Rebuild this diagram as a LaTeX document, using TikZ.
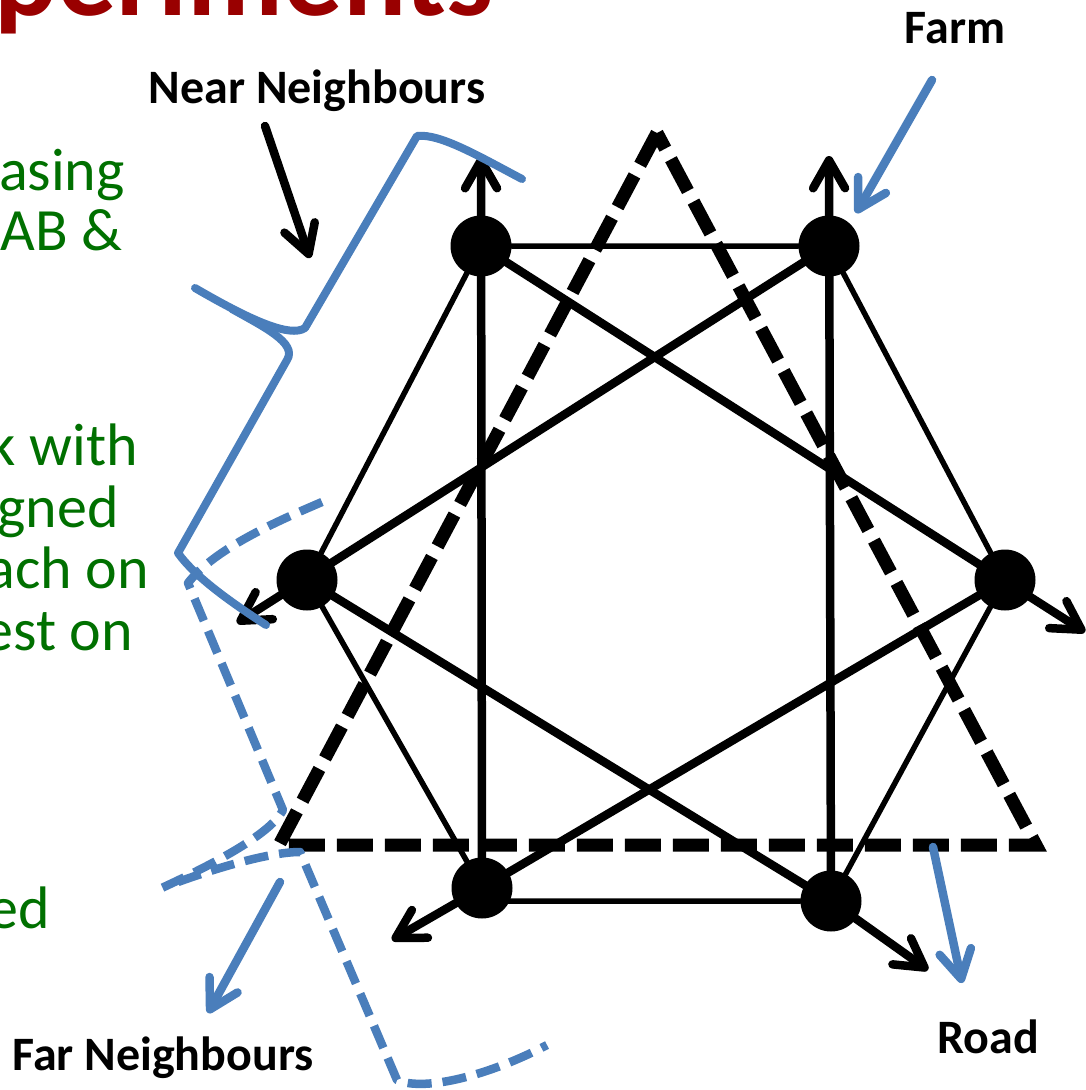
\documentclass[tikz,border=0pt]{standalone}
\usepackage{fontspec}
\setmainfont{Carlito}
\usetikzlibrary{arrows.meta}
\definecolor{accblue}{RGB}{74,126,187}
\definecolor{txtgreen}{RGB}{0,112,0}
\definecolor{titlered}{RGB}{153,0,0}
\begin{document}
\begin{tikzpicture}[x=1pt, y=-1pt, line join=round, line cap=round,
    >={Straight Barb[length=28pt,width=32pt,round]},
    dot/.style={circle, fill=black, inner sep=0pt, minimum size=61pt},
    hexline/.style={line width=5.5pt},
    starline/.style={line width=8.5pt, ->},
    tri/.style={line width=13pt, line cap=butt, line join=miter, dash pattern=on 36pt off 12pt},
    brace/.style={accblue, line width=8pt},
    farbrace/.style={accblue, line width=8.5pt, line cap=butt, dash pattern=on 24pt off 11pt},
    bluearrow/.style={accblue, line width=8.5pt, ->},
    lbl/.style={font=\fontsize{48}{48}\selectfont\bfseries, inner sep=0pt, anchor=base},
    side/.style={font=\fontsize{60}{61}\selectfont, text=txtgreen, inner sep=0pt, anchor=base east}]
    \useasboundingbox (0,0) rectangle (1086,1090);
    % title and side text (cut by the frame)
    \node[font=\fontsize{118}{118}\selectfont\bfseries, text=titlered, inner sep=0pt, anchor=base west] (title) at (-6,15) {periments};
    \node[side] (s1) at (125,190) {asing};
    \node[side] (s2) at (123,250) {AB \&};
    \node[side] (s3) at (138,465) {k with};
    \node[side] (s4) at (119,527) {gned};
    \node[side] (s5) at (149,588) {ach on};
    \node[side] (s6) at (133,650) {est on};
    \node[side] (s7) at (50,928) {ed};
    % plots
    \node[dot] (TL) at (481,246) {};
    \node[dot] (TR) at (829,246) {};
    \node[dot] (L) at (307,580) {};
    \node[dot] (R) at (1005,580) {};
    \node[dot] (BL) at (482,888) {};
    \node[dot] (BR) at (831,901) {};
    \coordinate (upL) at (481,156);
    \coordinate (upR) at (829,156);
    \coordinate (outR) at (1085,632);
    \coordinate (outL) at (237,623);
    \coordinate (outBR) at (928,970);
    \coordinate (outBL) at (392,940);
    % hexagon
    \draw[hexline] (TL) -- (TR) (TR) -- (R) (R) -- (BR) (BR) -- (BR -| BL) (BL) -- (L) (L) -- (TL);
    % star lines with arrows
    \draw[starline] (BL.center) -- (upL);
    \draw[starline] (BR.center) -- (upR);
    \draw[starline] (TL.center) -- (outR);
    \draw[starline] (TR.center) -- (outL);
    \draw[starline] (L.center) -- (BR.center) -- (outBR);
    \draw[starline] (R.center) -- (BL.center) -- (outBL);
    % dashed triangle
    \coordinate (apex) at (657,133);
    \coordinate (triL) at (279,845);
    \coordinate (triR) at (1036,845);
    \draw[tri] (apex) -- (triL) -- (triR) -- cycle;
    % braces
    \draw[brace] (522,179) .. controls (482,158) and (440,133) .. (417,136) -- (305,328) .. controls (290,338) and (250,320) .. (195,288);
    \draw[brace] (232,309) .. controls (262,326) and (298,343) .. (287,360) -- (178,553) .. controls (195,577) and (232,603) .. (266,625);
    \draw[farbrace] (322,502) .. controls (280,520) and (215,548) .. (188,583) -- (283,810) .. controls (270,835) and (210,866) .. (153,892);
    \draw[farbrace] (178,882) .. controls (222,866) and (272,852) .. (300,852) -- (397,1080) .. controls (425,1092) and (490,1075) .. (547,1045);
    % labels
    \node[lbl] (near) at (317,103) {Near Neighbours};
    \node[lbl] (farm) at (955,43) {Farm};
    \node[lbl] (far) at (163,1070) {Far Neighbours};
    \node[lbl] (road) at (988,1053) {Road};
    \coordinate (nearA) at (265,126);
    \coordinate (nearB) at (310,258);
    \coordinate (farmA) at (932,80);
    \coordinate (farmB) at (856,213);
    \coordinate (farA) at (280,882);
    \coordinate (farB) at (208,1013);
    \coordinate (roadA) at (933,847);
    \coordinate (roadB) at (962,983);
    \draw[line width=8.5pt, ->] (nearA) -- (nearB);
    \draw[bluearrow] (farmA) -- (farmB);
    \draw[bluearrow] (farA) -- (farB);
    \draw[bluearrow] (roadA) -- (roadB);
\end{tikzpicture}
\end{document}
